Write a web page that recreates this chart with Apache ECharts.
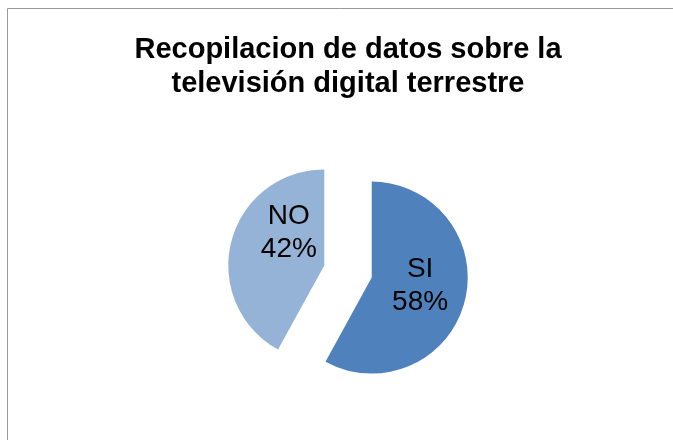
<!DOCTYPE html>
<html>
<head>
<meta charset="utf-8">
<script src="https://cdn.jsdelivr.net/npm/echarts@6/dist/echarts.min.js"></script>
<style>
  html, body { margin: 0; padding: 0; background: #fff; }
  #main { width: 673px; height: 440px; }
</style>
</head>
<body>
<div id="main"></div>
<script>
const categorias = ['SI', 'NO'];
const valores = [58, 42];
const colores = ['#4F81BD', '#95B3D7'];
// ajuste de la etiqueta respecto a la posicion "inside" (como lo pone Excel)
const ajusteEtiqueta = [[-1, -4], [14, -20]];

const myChart = echarts.init(document.getElementById('main'));

const option = {
  animation: false,
  backgroundColor: '#ffffff',
  title: {
    text: 'Recopilacion de datos sobre la\ntelevisión digital terrestre',
    left: 348,
    textAlign: 'center',
    top: 33,
    padding: 0,
    textStyle: {
      fontFamily: 'Liberation Sans, Arial, sans-serif',
      fontWeight: 'bold',
      fontSize: 29,
      lineHeight: 34,
      color: '#000'
    }
  },
  graphic: [
    {
      type: 'rect',
      silent: true,
      shape: { x: 7.5, y: 8.5, width: 700, height: 500 },
      style: { fill: 'none', stroke: '#999999', lineWidth: 1 }
    }
  ],
  series: [
    {
      type: 'pie',
      center: [348, 271.5],
      radius: 96,
      startAngle: 90,
      clockwise: true,
      selectedMode: 'multiple',
      selectedOffset: 24.5,
      avoidLabelOverlap: false,
      label: {
        show: true,
        position: 'inside',
        formatter: (p) => p.name + '\n' + Math.round(p.percent) + '%',
        fontFamily: 'Liberation Sans, Arial, sans-serif',
        fontSize: 28,
        lineHeight: 33,
        color: '#000'
      },
      labelLine: { show: false },
      labelLayout: (p) => ({ dx: ajusteEtiqueta[p.dataIndex][0], dy: ajusteEtiqueta[p.dataIndex][1] }),
      emphasis: { disabled: true },
      select: { itemStyle: { borderWidth: 0 } },
      data: categorias.map((c, i) => ({
        name: c,
        value: valores[i],
        selected: true,
        itemStyle: { color: colores[i] }
      }))
    }
  ]
};

myChart.setOption(option);
</script>
</body>
</html>
